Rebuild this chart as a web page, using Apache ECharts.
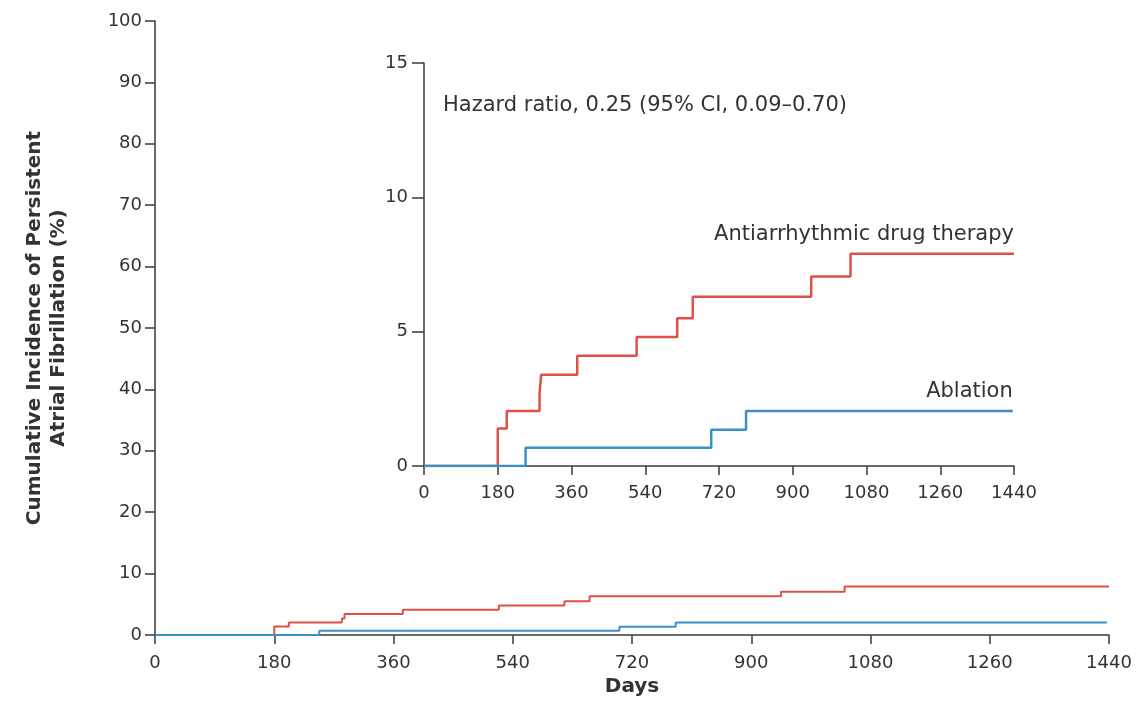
<!DOCTYPE html>
<html>
<head>
<meta charset="utf-8">
<script src="https://cdn.jsdelivr.net/npm/echarts@6/dist/echarts.min.js"></script>
<style>html,body{margin:0;padding:0;background:#fff}#c{width:1143px;height:726px}</style>
</head>
<body>
<div id="c"></div>
<script>
const xTicks = [0, 180, 360, 540, 720, 900, 1080, 1260, 1440];
const drugDays = [0, 180, 202, 282, 286, 374, 519, 618, 656, 945, 1041, 1440];
const drugValues = [0, 1.4, 2.05, 2.7, 3.4, 4.1, 4.8, 5.5, 6.3, 7.05, 7.9, 7.9];
const ablDays = [0, 248, 701, 786, 1437];
const ablValues = [0, 0.68, 1.35, 2.05, 2.05];
const hazardText = 'Hazard ratio, 0.25 (95% CI, 0.09\u20130.70)';
const drugName = 'Antiarrhythmic drug therapy';
const ablName = 'Ablation';

const RED = '#dd5149';
const BLUE = '#3a91c6';
const AX = '#3a3a3a';
const TXT = '#333';
const FONT = 'DejaVu Sans';

const drugData = drugDays.map((d, i) => [d, drugValues[i]]);
const ablData = ablDays.map((d, i) => [d, ablValues[i]]);

function xAxisCfg(gridIndex, fs, margin) {
  return {
    type: 'value', gridIndex, min: xTicks[0], max: xTicks[xTicks.length - 1], interval: xTicks[1] - xTicks[0],
    axisLine: { lineStyle: { color: AX, width: 1.5 } },
    axisTick: { length: 9, lineStyle: { color: AX, width: 1.5 } },
    axisLabel: { color: TXT, fontFamily: FONT, fontSize: fs, margin, formatter: v => String(v) },
    splitLine: { show: false }
  };
}
function yAxisCfg(gridIndex, max, interval, fs, margin, tickLen) {
  return {
    type: 'value', gridIndex, min: 0, max, interval,
    axisLine: { show: true, lineStyle: { color: AX, width: 1.5 } },
    axisTick: { show: true, length: tickLen, lineStyle: { color: AX, width: 1.5 } },
    axisLabel: { color: TXT, fontFamily: FONT, fontSize: fs, margin, formatter: v => String(v) },
    splitLine: { show: false }
  };
}

const chart = echarts.init(document.getElementById('c'), null, { renderer: 'canvas' });
chart.setOption({
  animation: false,
  backgroundColor: '#fff',
  grid: [
    { left: 155, top: 21, width: 954, height: 614 },
    { left: 424, top: 63, width: 590, height: 403 }
  ],
  xAxis: [
    Object.assign(xAxisCfg(0, 18, 19), {
      name: 'Days', nameLocation: 'middle', nameGap: 41,
      nameTextStyle: { color: TXT, fontFamily: FONT, fontSize: 20, fontWeight: 'bold' }
    }),
    xAxisCfg(1, 18, 18)
  ],
  yAxis: [
    Object.assign(yAxisCfg(0, 100, 10, 18, 13, 10), {
      name: 'Cumulative Incidence of Persistent\nAtrial Fibrillation (%)',
      nameLocation: 'middle', nameGap: 84, nameRotate: 90,
      nameTextStyle: { color: TXT, fontFamily: FONT, fontSize: 20, fontWeight: 'bold', lineHeight: 24 }
    }),
    yAxisCfg(1, 15, 5, 18, 16, 12)
  ],
  graphic: [
    { type: 'text', left: 443, top: 95, style: { text: hazardText, fill: TXT, font: '21px "' + FONT + '"' } }
  ],
  series: [
    { type: 'line', name: drugName, xAxisIndex: 0, yAxisIndex: 0, step: 'end', showSymbol: false, data: drugData,
      lineStyle: { color: RED, width: 2 }, z: 3 },
    { type: 'line', name: ablName, xAxisIndex: 0, yAxisIndex: 0, step: 'end', showSymbol: false, data: ablData,
      lineStyle: { color: BLUE, width: 2 }, z: 3 },
    { type: 'line', name: drugName, xAxisIndex: 1, yAxisIndex: 1, step: 'end', showSymbol: false, data: drugData,
      lineStyle: { color: RED, width: 2.5 }, z: 3,
      markPoint: { symbol: 'circle', symbolSize: 0, data: [{ coord: [1440, 7.9] }],
        label: { show: true, formatter: drugName, position: 'top', align: 'right', offset: [0, -4],
          color: TXT, fontFamily: FONT, fontSize: 21 } } },
    { type: 'line', name: ablName, xAxisIndex: 1, yAxisIndex: 1, step: 'end', showSymbol: false, data: ablData,
      lineStyle: { color: BLUE, width: 2.5 }, z: 3,
      markPoint: { symbol: 'circle', symbolSize: 0, data: [{ coord: [1437, 2.05] }],
        label: { show: true, formatter: ablName, position: 'top', align: 'right', offset: [0, -4],
          color: TXT, fontFamily: FONT, fontSize: 21 } } }
  ]
});
</script>
</body>
</html>
